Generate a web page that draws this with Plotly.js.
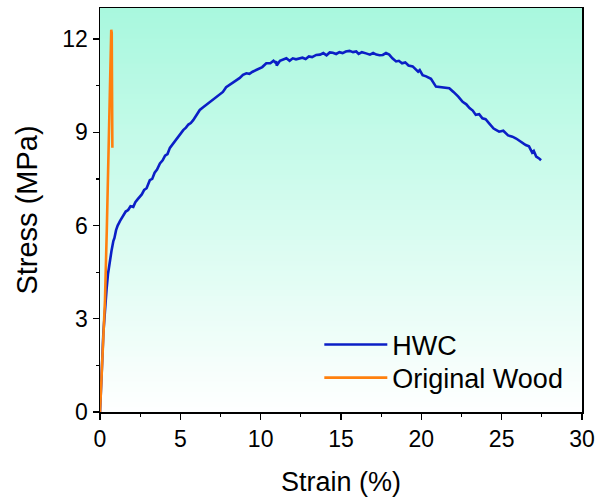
<!DOCTYPE html>
<html>
<head>
<meta charset="utf-8">
<script src="https://cdn.plot.ly/plotly-3.0.1.min.js"></script>
<style>html,body{margin:0;padding:0;background:#fff;}#chart{width:604px;height:497px;}</style>
</head>
<body>
<div id="chart"></div>
<script>
// HWC stress-strain curve (strain %, stress MPa)
const hwcStrain = [0,0.05,0.1,0.15,0.21,0.3,0.41,0.5,0.62,0.72,0.83,0.9,1.0,1.1,1.25,1.45,1.6,1.75,1.9,2.07,2.2,2.35,2.48,2.6,2.75,2.9,3.1,3.25,3.4,3.55,3.73,3.9,4.05,4.2,4.35,4.55,4.7,4.85,5.0,5.18,5.35,5.5,5.65,5.8,6.0,6.21,6.4,6.6,6.83,7.0,7.2,7.45,7.65,7.85,8.07,8.3,8.5,8.7,8.9,9.11,9.3,9.5,9.73,9.9,10.1,10.35,10.6,10.8,10.9,10.97,11.0,11.2,11.38,11.6,11.8,12.0,12.2,12.42,12.6,12.8,13.0,13.2,13.46,13.7,13.9,14.1,14.3,14.49,14.7,14.9,15.1,15.3,15.53,15.75,15.95,16.1,16.3,16.56,16.8,17.0,17.2,17.4,17.6,17.8,18.0,18.2,18.43,18.6,18.8,19.0,19.2,19.46,19.6,19.8,19.9,20.08,20.3,20.6,20.91,21.2,21.5,21.74,22.0,22.3,22.57,22.8,23.0,23.2,23.39,23.6,23.8,24.0,24.22,24.5,24.84,25.1,25.4,25.67,25.9,26.2,26.5,26.7,26.9,27.0,27.15,27.33,27.45];
const hwcStress = [0,0.5,0.95,1.8,2.55,3.3,3.95,4.45,4.9,5.2,5.5,5.6,5.85,6.0,6.15,6.35,6.45,6.5,6.62,6.6,6.75,6.85,6.92,7.0,7.15,7.2,7.46,7.5,7.7,7.8,8.0,8.1,8.25,8.3,8.5,8.64,8.75,8.85,8.95,9.07,9.15,9.25,9.3,9.39,9.55,9.72,9.8,9.88,9.98,10.05,10.1,10.2,10.3,10.45,10.52,10.6,10.68,10.75,10.85,10.9,10.88,10.95,11.0,11.05,11.1,11.22,11.22,11.3,11.25,11.28,11.15,11.3,11.33,11.38,11.3,11.38,11.35,11.38,11.4,11.36,11.44,11.42,11.49,11.5,11.55,11.48,11.57,11.56,11.52,11.58,11.55,11.6,11.62,11.58,11.6,11.52,11.58,11.54,11.5,11.55,11.5,11.48,11.49,11.55,11.5,11.38,11.28,11.3,11.22,11.25,11.15,11.12,11.05,10.95,11.0,10.84,10.8,10.72,10.47,10.45,10.45,10.42,10.3,10.15,9.98,9.9,9.78,9.7,9.56,9.58,9.45,9.42,9.29,9.12,9.02,9.05,8.9,8.86,8.8,8.68,8.59,8.55,8.35,8.4,8.22,8.16,8.1];
// Original wood
const woodStrain = [0,0.1,0.2,0.31,0.42,0.52,0.58,0.65,0.7,0.73,0.75,0.77];
const woodStress = [0,1.2,2.4,3.6,5.8,7.9,10.0,11.3,12.3,12.2,10.3,8.5];
const seriesNames = ["HWC","Original Wood"];
const xTicks = [0,5,10,15,20,25,30];
const yTicks = [0,3,6,9,12];

const fontFam = "Liberation Sans, Arial, sans-serif";

// background gradient strips (mint at top -> white at bottom)
const bgShapes = [];
const NSTRIP = 80;
const colTop = [168,248,222], colBot = [255,255,255];
for (let i = 0; i < NSTRIP; i++) {
  const t = (i + 0.5) / NSTRIP; // 0 bottom -> 1 top
  const c = colBot.map((b, k) => Math.round(b + (colTop[k] - b) * t));
  bgShapes.push({type:'rect', xref:'paper', yref:'paper', x0:0, x1:1, y0:i/NSTRIP, y1:Math.min(1,(i+1)/NSTRIP + 0.002),
    fillcolor:`rgb(${c[0]},${c[1]},${c[2]})`, line:{width:0}, layer:'below'});
}

const traces = [
  {x: hwcStrain, y: hwcStress, name: seriesNames[0], type:'scatter', mode:'lines', legend:'legend',
   line:{color:'#0b1fc6', width:2.6}},
  {x: woodStrain, y: woodStress, name: seriesNames[1], type:'scatter', mode:'lines', legend:'legend2',
   line:{color:'#ff800e', width:2.6}}
];

const legendBase = {x:0.455, xanchor:'left', yanchor:'middle', bgcolor:'rgba(0,0,0,0)',
  font:{family:fontFam, size:27, color:'#000'}, itemwidth:63};

const layout = {
  width:604, height:497,
  margin:{l:100, r:22, t:8, b:85},
  paper_bgcolor:'#ffffff', plot_bgcolor:'rgba(0,0,0,0)',
  font:{family:fontFam, color:'#000'},
  shapes: bgShapes,
  showlegend:true,
  legend: Object.assign({}, legendBase, {y:0.166}),
  legend2: Object.assign({}, legendBase, {y:0.084}),
  xaxis:{range:[0,30], tickvals:xTicks, ticktext:xTicks.map(String), ticks:'outside', ticklen:6, tickwidth:1.3,
    tickcolor:'#000', showline:true, linecolor:'#000', linewidth:1.5, mirror:true, showgrid:false, zeroline:false,
    tickfont:{family:fontFam, size:23, color:'#000'},
    minor:{dtick:2.5, ticks:'outside', ticklen:3, tickwidth:1.2, tickcolor:'#000', showgrid:false},
    title:{text:'Strain (%)', font:{family:fontFam, size:27, color:'#000'}, standoff:24}},
  yaxis:{range:[0,13], tickvals:yTicks, ticktext:yTicks.map(String), ticks:'outside', ticklen:6, tickwidth:1.3,
    tickcolor:'#000', showline:true, linecolor:'#000', linewidth:1.5, mirror:true, showgrid:false, zeroline:false,
    tickfont:{family:fontFam, size:23, color:'#000'},
    minor:{dtick:1.5, ticks:'outside', ticklen:3, tickwidth:1.2, tickcolor:'#000', showgrid:false},
    title:{text:'Stress (MPa)', font:{family:fontFam, size:29, color:'#000'}, standoff:16}}
};

Plotly.newPlot('chart', traces, layout, {displayModeBar:false, staticPlot:true});
</script>
</body>
</html>
